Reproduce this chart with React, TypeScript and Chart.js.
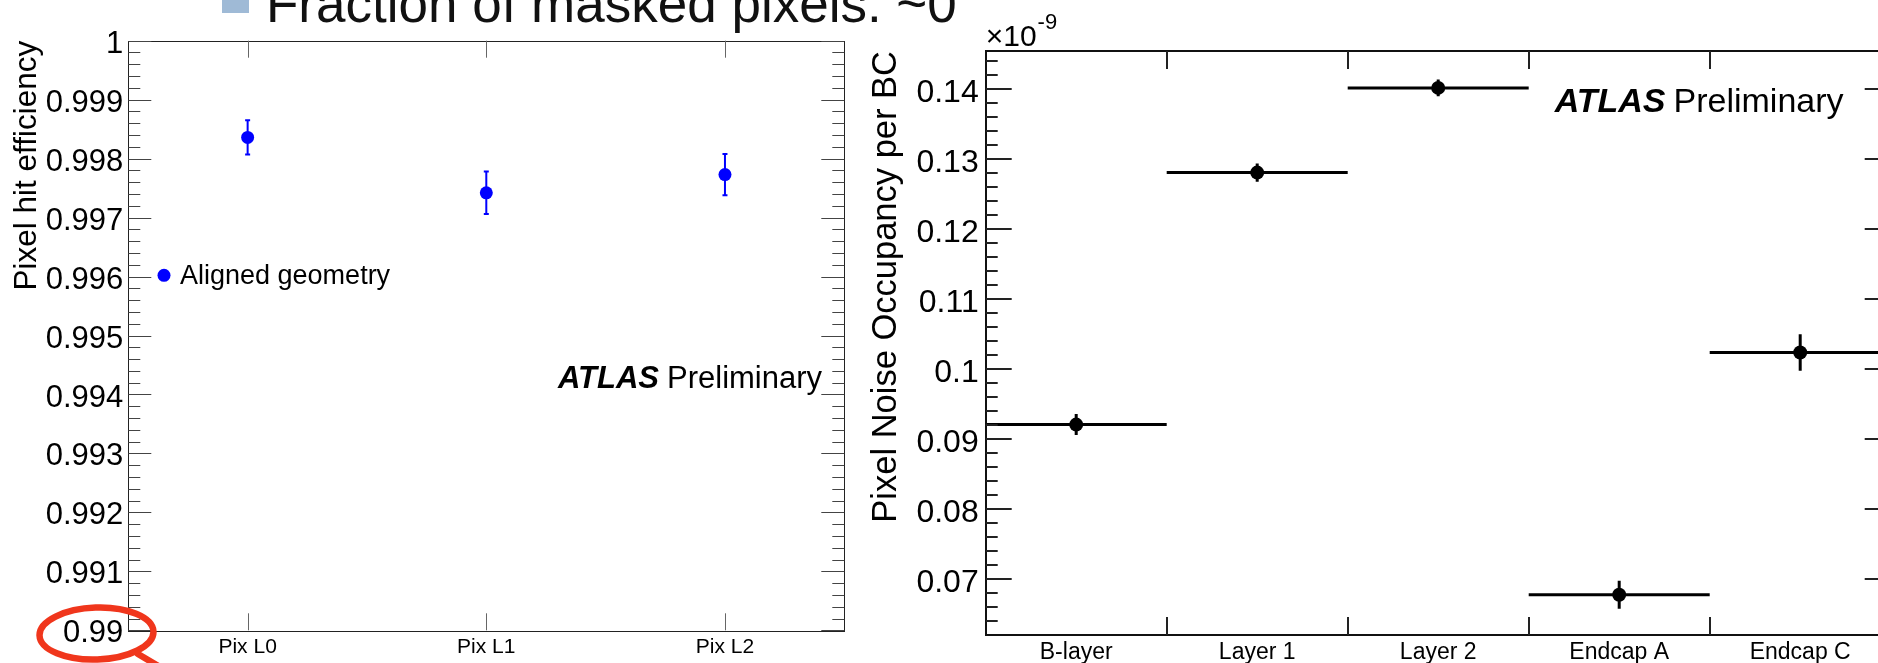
import React, { useEffect, useRef } from 'react';
import { Chart, registerables } from 'chart.js';

Chart.register(...registerables);

const FONT = '"Liberation Sans", Arial, Helvetica, sans-serif';

// ---------- left panel: pixel hit efficiency ----------
const pixLayers = ['Pix L0', 'Pix L1', 'Pix L2'];
const hitEfficiency = [0.99836, 0.99742, 0.99773];
const hitEfficiencyErr = [0.00029, 0.00036, 0.00035];
const efficiencyTicks = [0.99, 0.991, 0.992, 0.993, 0.994, 0.995, 0.996, 0.997, 0.998, 0.999, 1];
const efficiencyRange = [0.99, 1];
const efficiencyTitle = 'Pixel hit efficiency';
const efficiencyLegend = 'Aligned geometry';

// ---------- right panel: pixel noise occupancy ----------
const noiseLayers = ['B-layer', 'Layer 1', 'Layer 2', 'Endcap A', 'Endcap C'];
const noiseOccupancy = [0.0921, 0.1281, 0.1402, 0.0678, 0.1024];
const noiseOccupancyErr = [0.0015, 0.0013, 0.0012, 0.002, 0.0026];
const noiseTicks = [0.07, 0.08, 0.09, 0.1, 0.11, 0.12, 0.13, 0.14];
const noiseRange = [0.06204, 0.14547];
const noiseTitle = 'Pixel Noise Occupancy per BC';
const noiseExponent = '-9';

const slideText = 'Fraction of masked pixels: ~0';
const atlasLabel = ['ATLAS', 'Preliminary'];

function drawYAxisTicks(ctx: CanvasRenderingContext2D, y: any, area: any, majorStep: number, nMinor: number, majorLen: number, minorLen: number, lw: number, color: string) {
  const step = majorStep / nMinor;
  const k0 = Math.ceil(y.min / step - 1e-6);
  const k1 = Math.floor(y.max / step + 1e-6);
  ctx.save();
  ctx.strokeStyle = color;
  ctx.lineWidth = lw;
  ctx.beginPath();
  for (let k = k0; k <= k1; k++) {
    const v = k * step;
    const len = k % nMinor === 0 ? majorLen : minorLen;
    const py = Math.round(y.getPixelForValue(v)) + (lw % 2 ? 0.5 : 0);
    ctx.moveTo(area.left, py);
    ctx.lineTo(area.left + len, py);
    ctx.moveTo(area.right, py);
    ctx.lineTo(area.right - len, py);
  }
  ctx.stroke();
  ctx.restore();
}

function drawAtlas(ctx: CanvasRenderingContext2D, x: number, y: number, size: number, gap: number) {
  ctx.save();
  ctx.fillStyle = '#000';
  ctx.textBaseline = 'alphabetic';
  ctx.textAlign = 'left';
  ctx.font = `italic bold ${size}px ${FONT}`;
  ctx.fillText(atlasLabel[0], x, y);
  const w = ctx.measureText(atlasLabel[0]).width;
  ctx.font = `${size}px ${FONT}`;
  ctx.fillText(atlasLabel[1], x + w + gap, y);
  ctx.restore();
}

const leftDecor = {
  id: 'leftDecor',
  beforeDatasetsDraw(chart: any) {
    const { ctx, scales: { x, y } } = chart;
    ctx.save();
    ctx.strokeStyle = '#0000ff';
    ctx.lineWidth = 2;
    hitEfficiency.forEach((v, i) => {
      const px = x.getPixelForValue(i);
      const y1 = y.getPixelForValue(v + hitEfficiencyErr[i]);
      const y2 = y.getPixelForValue(v - hitEfficiencyErr[i]);
      ctx.beginPath();
      ctx.moveTo(px, y1);
      ctx.lineTo(px, y2);
      ctx.moveTo(px - 2.5, y1);
      ctx.lineTo(px + 2.5, y1);
      ctx.moveTo(px - 2.5, y2);
      ctx.lineTo(px + 2.5, y2);
      ctx.stroke();
    });
    ctx.restore();
  },
  afterDraw(chart: any) {
    const { ctx, chartArea: a, scales: { x, y } } = chart;
    ctx.save();
    ctx.strokeStyle = '#222';
    ctx.lineWidth = 1;
    ctx.strokeRect(Math.round(a.left) + 0.5, Math.round(a.top) + 0.5, Math.round(a.right - a.left), Math.round(a.bottom - a.top));
    ctx.restore();
    drawYAxisTicks(ctx, y, a, 0.001, 5, 23, 12, 1, '#444');
    ctx.save();
    ctx.strokeStyle = '#666';
    ctx.lineWidth = 1;
    ctx.beginPath();
    pixLayers.forEach((_, i) => {
      const px = Math.round(x.getPixelForValue(i)) + 0.5;
      ctx.moveTo(px, a.top);
      ctx.lineTo(px, a.top + 17);
      ctx.moveTo(px, a.bottom);
      ctx.lineTo(px, a.bottom - 17);
    });
    ctx.stroke();
    ctx.restore();
    ctx.save();
    ctx.fillStyle = '#0000ff';
    ctx.beginPath();
    ctx.arc(a.left + 35.7, a.top + 234.6, 6.5, 0, Math.PI * 2);
    ctx.fill();
    ctx.fillStyle = '#000';
    ctx.font = `27px ${FONT}`;
    ctx.textBaseline = 'middle';
    ctx.fillText(efficiencyLegend, a.left + 51.7, a.top + 235.5);
    ctx.restore();
    drawAtlas(ctx, a.left + 429.7, a.top + 347.3, 31, 8);
  },
};

const rightDecor = {
  id: 'rightDecor',
  beforeDatasetsDraw(chart: any) {
    const { ctx, scales: { x, y } } = chart;
    ctx.save();
    ctx.strokeStyle = '#000';
    ctx.lineWidth = 3;
    noiseOccupancy.forEach((v, i) => {
      const px = x.getPixelForValue(i);
      const py = y.getPixelForValue(v);
      ctx.beginPath();
      ctx.moveTo(x.getPixelForValue(i - 0.5), py);
      ctx.lineTo(x.getPixelForValue(i + 0.5), py);
      ctx.moveTo(px, y.getPixelForValue(v + noiseOccupancyErr[i]));
      ctx.lineTo(px, y.getPixelForValue(v - noiseOccupancyErr[i]));
      ctx.stroke();
    });
    ctx.restore();
  },
  afterDraw(chart: any) {
    const { ctx, chartArea: a, scales: { x, y } } = chart;
    ctx.save();
    ctx.strokeStyle = '#111';
    ctx.lineWidth = 2;
    ctx.strokeRect(Math.round(a.left), Math.round(a.top), Math.round(a.right - a.left), Math.round(a.bottom - a.top));
    ctx.restore();
    drawYAxisTicks(ctx, y, a, 0.01, 5, 26, 12, 2, '#222');
    ctx.save();
    ctx.strokeStyle = '#222';
    ctx.lineWidth = 2;
    ctx.beginPath();
    for (let i = 0; i < noiseLayers.length - 1; i++) {
      const px = Math.round(x.getPixelForValue(i + 0.5));
      ctx.moveTo(px, a.top);
      ctx.lineTo(px, a.top + 18);
      ctx.moveTo(px, a.bottom);
      ctx.lineTo(px, a.bottom - 18);
    }
    ctx.stroke();
    ctx.restore();
    ctx.save();
    ctx.fillStyle = '#000';
    ctx.textBaseline = 'alphabetic';
    ctx.font = `30px ${FONT}`;
    ctx.fillText('\u00d710', a.left, a.top - 5);
    const w = ctx.measureText('\u00d710').width;
    ctx.font = `22px ${FONT}`;
    ctx.fillText(noiseExponent, a.left + w + 1, a.top - 22);
    ctx.restore();
    drawAtlas(ctx, a.left + 569, a.top + 61, 34, 8);
  },
};

export default function App() {
  const leftRef = useRef<HTMLCanvasElement>(null);
  const rightRef = useRef<HTMLCanvasElement>(null);

  useEffect(() => {
    const common = {
      responsive: false,
      animation: false,
      devicePixelRatio: 1,
      events: [],
    };
    const left = new Chart(leftRef.current as HTMLCanvasElement, {
      type: 'line',
      data: {
        labels: pixLayers,
        datasets: [
          {
            data: hitEfficiency,
            showLine: false,
            pointRadius: 6.5,
            pointHoverRadius: 6.5,
            pointBackgroundColor: '#0000ff',
            pointBorderWidth: 0,
            borderColor: '#0000ff',
          },
        ],
      },
      options: {
        ...common,
        layout: { padding: { left: 0, top: 40.7, right: 25.7, bottom: 0 } },
        plugins: { legend: { display: false }, tooltip: { enabled: false } },
        scales: {
          x: {
            type: 'category',
            offset: true,
            grid: { display: false, drawTicks: false },
            border: { display: false },
            ticks: { font: { family: FONT, size: 21 }, color: '#000', padding: 4, autoSkip: false, maxRotation: 0 },
            afterFit: (s: any) => { s.height = 32.7; },
          },
          y: {
            type: 'linear',
            min: efficiencyRange[0],
            max: efficiencyRange[1],
            grid: { display: false, drawTicks: false },
            border: { display: false },
            afterBuildTicks: (s: any) => { s.ticks = efficiencyTicks.map((v) => ({ value: v })); },
            ticks: {
              callback: (v: any) => String(+Number(v).toFixed(3)),
              font: { family: FONT, size: 31 },
              color: '#000',
              padding: 5,
              labelOffset: 3.5,
              autoSkip: false,
            },
            title: {
              display: true,
              text: efficiencyTitle,
              align: 'end',
              font: { family: FONT, size: 31.5 },
              color: '#000',
              padding: { top: 8, bottom: 0 },
            },
            afterFit: (s: any) => { s.width = 128.3; },
          },
        },
      } as any,
      plugins: [leftDecor],
    });

    const right = new Chart(rightRef.current as HTMLCanvasElement, {
      type: 'line',
      data: {
        labels: noiseLayers,
        datasets: [
          {
            data: noiseOccupancy,
            showLine: false,
            pointRadius: 7,
            pointHoverRadius: 7,
            pointBackgroundColor: '#000',
            pointBorderWidth: 0,
            borderColor: '#000',
          },
        ],
      },
      options: {
        ...common,
        layout: { padding: { left: 0, top: 51, right: 29.3, bottom: 0 } },
        plugins: { legend: { display: false }, tooltip: { enabled: false } },
        scales: {
          x: {
            type: 'category',
            offset: true,
            grid: { display: false, drawTicks: false },
            border: { display: false },
            ticks: { font: { family: FONT, size: 23 }, color: '#000', padding: 4, autoSkip: false, maxRotation: 0 },
            afterFit: (s: any) => { s.height = 28; },
          },
          y: {
            type: 'linear',
            min: noiseRange[0],
            max: noiseRange[1],
            grid: { display: false, drawTicks: false },
            border: { display: false },
            afterBuildTicks: (s: any) => { s.ticks = noiseTicks.map((v) => ({ value: v })); },
            ticks: {
              callback: (v: any) => String(+Number(v).toFixed(2)),
              font: { family: FONT, size: 32 },
              color: '#000',
              padding: 7,
              labelOffset: 4,
              autoSkip: false,
            },
            title: {
              display: true,
              text: noiseTitle,
              align: 'end',
              font: { family: FONT, size: 34.5 },
              color: '#000',
              padding: { top: 6, bottom: 0 },
            },
            afterFit: (s: any) => { s.width = 125.7; },
          },
        },
      } as any,
      plugins: [rightDecor],
    });

    return () => {
      left.destroy();
      right.destroy();
    };
  }, []);

  return (
    <div style={{ position: 'fixed', left: 0, top: 0, width: 1878, height: 663, overflow: 'hidden', background: '#fff' }}>
      <div style={{ position: 'absolute', left: 222, top: -15, width: 27, height: 28, background: '#9fbad6' }} />
      <div
        style={{
          position: 'absolute',
          left: 266,
          top: -23,
          fontFamily: FONT,
          fontSize: 53,
          lineHeight: '53px',
          whiteSpace: 'nowrap',
          color: '#111',
        }}
      >
        {slideText}
      </div>
      <canvas ref={leftRef} width={870} height={663} style={{ position: 'absolute', left: 0, top: 0, width: 870, height: 663 }} />
      <canvas ref={rightRef} width={1060} height={663} style={{ position: 'absolute', left: 860, top: 0, width: 1060, height: 663 }} />
      <svg width={1878} height={663} style={{ position: 'absolute', left: 0, top: 0, pointerEvents: 'none' }}>
        <ellipse cx={96.5} cy={633.5} rx={57} ry={26} fill="none" stroke="#f0361c" strokeWidth={6.5} transform="rotate(-2 96.5 633.5)" />
        <line x1={138} y1={654} x2={165} y2={670} stroke="#f0361c" strokeWidth={6.5} strokeLinecap="round" />
      </svg>
    </div>
  );
}
